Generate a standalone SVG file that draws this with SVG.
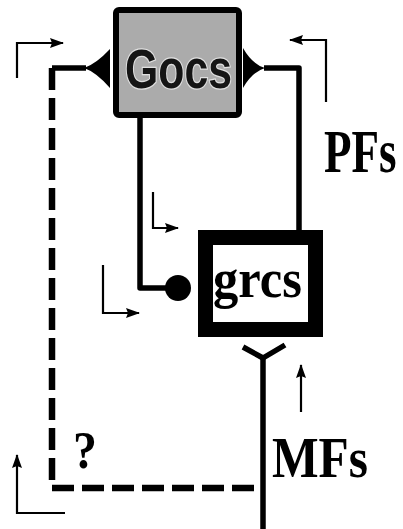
<svg xmlns="http://www.w3.org/2000/svg" width="403" height="529" viewBox="0 0 403 529">
<style>
.wire{fill:none;stroke:#000;stroke-width:5.5;stroke-linejoin:round}
.dash{fill:none;stroke:#000;stroke-width:6.5;stroke-dasharray:22 8}
.ann{fill:none;stroke:#000;stroke-width:2.2;marker-end:url(#ah)}
.lbl{font-family:"Liberation Serif","Times New Roman",serif;font-weight:bold;fill:#000}
</style>
<defs>
<marker id="ah" viewBox="0 0 14 10" refX="13" refY="5" markerWidth="14" markerHeight="10" markerUnits="userSpaceOnUse" orient="auto">
<path d="M0,0 L14,5 L0,10 L2,5 Z" fill="#000"/>
</marker>
</defs>
<rect width="403" height="529" fill="#fff"/>
<g id="connectors">
<path class="wire" d="M86,68 H52"/>
<path class="dash" d="M52,68 V488 H262"/>
<path d="M110,49 L110,88 Q96,72 84,68 Q96,64 110,49 Z" fill="#000"/>
<path d="M243,48 L243,88 Q252,72 265,68 Q252,64 243,48 Z" fill="#000"/>
<path class="wire" d="M264,68 H299 V231"/>
<path class="wire" d="M140,118 V288 H166"/>
<circle cx="178" cy="288" r="13" fill="#000"/>
<path class="wire" d="M243,347 L263,358 L285,345"/>
<path class="wire" d="M263,356 V529"/>
<path class="ann" d="M17,78 V43 H63"/>
<path class="ann" d="M326,102 V40 H290"/>
<path class="ann" d="M153,192 V228 H178"/>
<path class="ann" d="M103,265 V313 H139"/>
<path class="ann" d="M301,412 V365"/>
<path class="ann" d="M65,513 H17 V455"/>
</g>
<g id="Gocs">
<rect x="116" y="10" width="123" height="105" rx="3" fill="#ababab" stroke="#000" stroke-width="6"/>
<text x="125" y="88" font-family="Liberation Sans, Arial, sans-serif" font-weight="bold" font-size="55" textLength="107" lengthAdjust="spacingAndGlyphs" fill="#151515" stroke="#e0e0e0" stroke-width="2.5" paint-order="stroke">Gocs</text>
</g>
<g id="grcs">
<rect x="205.5" y="237.5" width="110" height="92" fill="#fff" stroke="#000" stroke-width="15"/>
<text class="lbl" x="213" y="297" font-size="54" textLength="89" lengthAdjust="spacingAndGlyphs">grcs</text>
</g>
<g id="PFs">
<text class="lbl" transform="translate(324,172) scale(1,1.35)" x="0" y="0" font-size="45">PFs</text>
</g>
<g id="MFs">
<text class="lbl" x="272" y="477" font-size="56" textLength="96" lengthAdjust="spacingAndGlyphs">MFs</text>
</g>
<g id="question">
<text class="lbl" x="73" y="468" font-size="52" textLength="24" lengthAdjust="spacingAndGlyphs">?</text>
</g>
</svg>
